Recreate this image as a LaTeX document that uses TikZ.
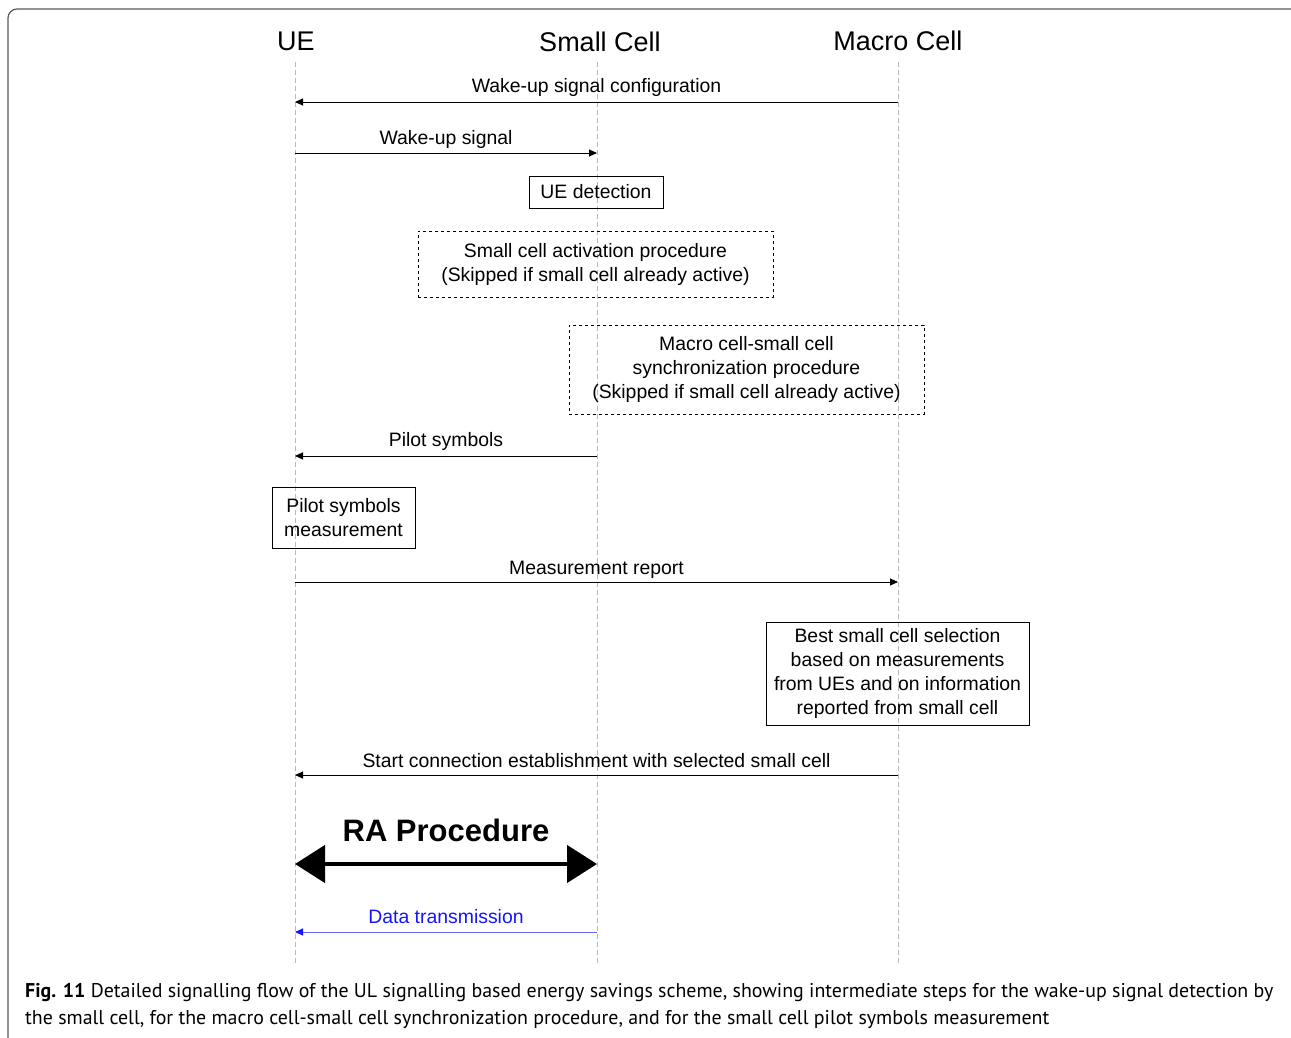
\documentclass[tikz,border=0pt]{standalone}
\usepackage{fontspec}
\setmainfont{Liberation Sans}
\newfontfamily\capfont{PT Sans}
\usepackage{tikz}
\usetikzlibrary{arrows.meta,positioning}
\usepackage{xcolor}
\definecolor{lifegray}{RGB}{185,185,185}
\definecolor{framegray}{RGB}{90,90,90}
\definecolor{datablue}{RGB}{20,20,255}

\tikzset{
  lbl/.style={font=\fontsize{19.4}{24}\selectfont, align=center, inner sep=0pt},
  head/.style={font=\fontsize{27}{30}\selectfont, inner sep=0pt},
  life/.style={lifegray, dash pattern=on 5pt off 3pt, line width=0.9pt},
  msg/.style={-{Triangle[length=8pt,width=7pt]}, line width=0.9pt},
  stepbox/.style={draw, line width=0.8pt, align=center, inner sep=0pt,
    font=\fontsize{19.4}{24}\selectfont},
  procbox/.style={stepbox, dashed},
}

\begin{document}
\begin{tikzpicture}[x=1pt, y=-1pt]
\useasboundingbox (0,0) rectangle (1291,1038);
\draw[framegray, line width=1.2pt, rounded corners=9pt] (8,1038) -- (8,9) -- (1291,9);

% lifelines
\node[head] (ue) at (296,41) {UE};
\node[head] (sc) at (600,42) {Small Cell};
\node[head] (mc) at (898,41) {Macro Cell};
\coordinate (ueTop) at (295,62);  \coordinate (ueBot) at (295,965);
\coordinate (scTop) at (597,62);  \coordinate (scBot) at (597,965);
\coordinate (mcTop) at (898,62);  \coordinate (mcBot) at (898,965);
\draw[life] (ueTop) -- (ueBot);
\draw[life] (scTop) -- (scBot);
\draw[life] (mcTop) -- (mcBot);

% messages
\coordinate (mc1) at (898,102); \coordinate (ue1) at (295,102);
\draw[msg] (mc1) -- node[lbl, midway, yshift=15pt] (cfg) {Wake-up signal configuration} (ue1);

\coordinate (ue2) at (295,153); \coordinate (sc2) at (597,153);
\draw[msg] (ue2) -- node[lbl, midway, yshift=14pt] (wus) {Wake-up signal} (sc2);

\node[stepbox, minimum width=134pt, minimum height=32pt] (det) at (596,192) {UE detection};
\node[procbox, minimum width=355pt, minimum height=66pt] (act) at (595.5,264)
  {Small cell activation procedure\\(Skipped if small cell already active)};
\node[procbox, minimum width=355pt, minimum height=89pt] (sync) at (746.5,369.5)
  {Macro cell-small cell\\synchronization procedure\\(Skipped if small cell already active)};

\coordinate (sc3) at (597,456); \coordinate (ue3) at (295,456);
\draw[msg] (sc3) -- node[lbl, midway, yshift=15pt] (pil) {Pilot symbols} (ue3);

\node[stepbox, minimum width=143pt, minimum height=61pt] (meas) at (343.5,517.5)
  {Pilot symbols\\measurement};

\coordinate (ue4) at (295,582); \coordinate (mc4) at (898,582);
\draw[msg] (ue4) -- node[lbl, midway, yshift=12pt] (rep) {Measurement report} (mc4);

\node[stepbox, minimum width=263pt, minimum height=103pt] (best) at (897.5,673.5)
  {Best small cell selection\\based on measurements\\from UEs and on information\\reported from small cell};

\coordinate (mc5) at (898,775); \coordinate (ue5) at (295,775);
\draw[msg] (mc5) -- node[lbl, midway, yshift=14pt] (conn) {Start connection establishment with selected small cell} (ue5);

% RA procedure
\coordinate (ue6) at (295,864); \coordinate (sc6) at (597,864);
\draw[{Triangle[length=30pt,width=37pt]}-{Triangle[length=30pt,width=37pt]}, line width=4.5pt]
  (ue6) -- node[midway, yshift=34pt, font=\fontsize{31}{34}\selectfont\bfseries, inner sep=0pt] (ra) {RA Procedure} (sc6);

\coordinate (sc7) at (597,932); \coordinate (ue7) at (295,932);
\draw[msg, datablue!65, -{Triangle[length=8pt,width=7pt,fill=datablue,color=datablue]}] (sc7) --
  node[lbl, midway, yshift=15pt, text=datablue] (data) {Data transmission} (ue7);

% caption
\node[anchor=west, align=left, inner sep=0pt, font=\capfont\fontsize{19.9}{27}\selectfont] (cap) at (25,1006)
  {{\bfseries Fig. 11} Detailed signalling flow of the UL signalling based energy savings scheme, showing intermediate steps for the wake-up signal detection by\\
   the small cell, for the macro cell-small cell synchronization procedure, and for the small cell pilot symbols measurement};
\end{tikzpicture}
\end{document}
